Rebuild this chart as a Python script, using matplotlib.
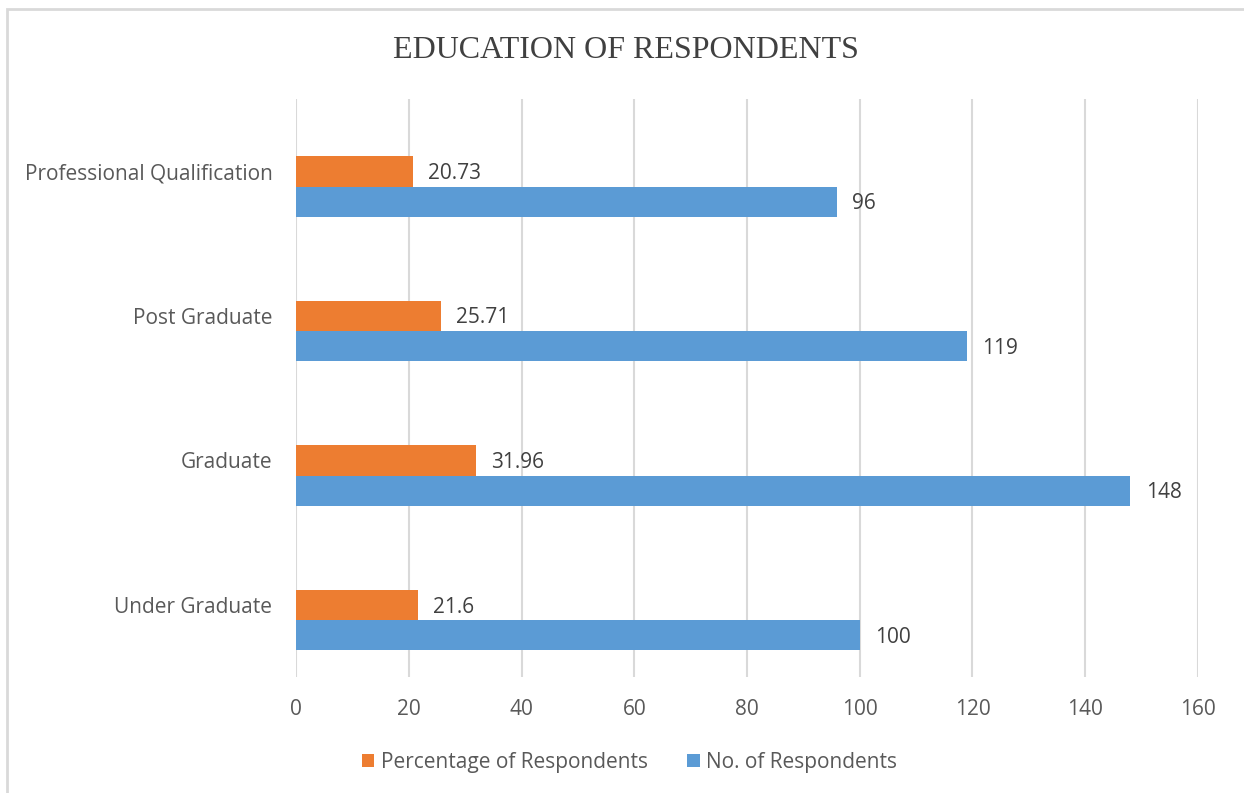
import numpy as np
import matplotlib.pyplot as plt
from matplotlib.patches import Rectangle

# data (bottom to top, as drawn)
categories = ['Under Graduate', 'Graduate', 'Post Graduate', 'Professional Qualification']
pct_values = [21.6, 31.96, 25.71, 20.73]
count_values = [100, 148, 119, 96]
pct_labels = ['21.6', '31.96', '25.71', '20.73']
xticks = [0, 20, 40, 60, 80, 100, 120, 140, 160]

ORANGE = '#ED7D31'
BLUE = '#5B9BD5'
GRID = '#D9D9D9'
TXT = '#595959'

plt.rcParams['font.family'] = ['Open Sans', 'DejaVu Sans']

fig = plt.figure(figsize=(12.44, 7.93), dpi=100)
ax = fig.add_axes([0.238, 0.146, 0.725, 0.729])

# chart outline (cut off at right/bottom like the reference)
fig.patches.append(Rectangle((7 / 1244, -0.1), 1.5, 1 - 9 / 793 + 0.1,
                             transform=fig.transFigure, fill=False,
                             edgecolor='#D9D9D9', linewidth=2))

y = np.arange(len(categories))
h = 0.21
# orange sits on the category line, blue just below it
ax.barh(y, pct_values, height=h, color=ORANGE, zorder=3,
        label='Percentage of Respondents')
ax.barh(y - h, count_values, height=h, color=BLUE, zorder=3,
        label='No. of Respondents')

for yi, v, lab in zip(y, pct_values, pct_labels):
    ax.annotate(lab, (v, yi), xytext=(11, -1.5), textcoords='offset points',
                va='center', ha='left', fontsize=15, color='#404040')
for yi, v in zip(y, count_values):
    ax.annotate(str(v), (v, yi - h), xytext=(11, -1.5), textcoords='offset points',
                va='center', ha='left', fontsize=15, color='#404040')

ax.set_xlim(0, 160)
ax.set_ylim(-0.5, 3.5)
ax.set_xticks(xticks)
ax.set_yticks(y)
ax.set_yticklabels(categories)
ax.tick_params(axis='both', length=0, labelsize=15, labelcolor=TXT)
ax.tick_params(axis='x', pad=16)
ax.tick_params(axis='y', pad=17)
ax.grid(axis='x', color=GRID, linewidth=1.5, zorder=0)
for s in ax.spines.values():
    s.set_visible(False)

fig.text(0.503, 0.936, 'EDUCATION OF RESPONDENTS', ha='center', va='center',
         fontsize=23, color='#404040', family='Liberation Serif')

handles, labels = ax.get_legend_handles_labels()
fig.legend(handles, labels, loc='center', bbox_to_anchor=(0.506, 0.039), ncol=2,
           frameon=False, fontsize=15, labelcolor=TXT, handlelength=0.6,
           handleheight=0.6, handletextpad=0.3, columnspacing=1.9)

fig.savefig('out.png', dpi=100)
